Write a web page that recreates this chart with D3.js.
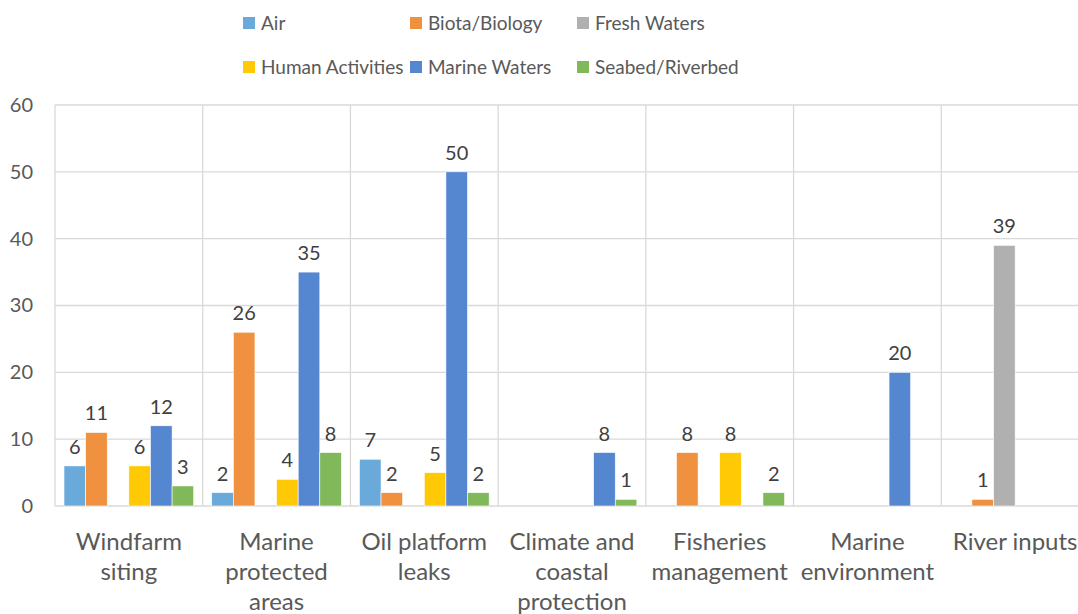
<!DOCTYPE html>
<html><head><meta charset="utf-8">
<script src="https://cdn.jsdelivr.net/npm/d3@7"></script>
<style>
html,body{margin:0;padding:0;background:#fff;}
svg{display:block;font-family:Lato, "Open Sans", sans-serif;}
</style></head>
<body><svg id="chart" width="1078" height="614"></svg>
<script>
const categories = ["Windfarm siting","Marine protected areas","Oil platform leaks","Climate and coastal protection","Fisheries management","Marine environment","River inputs"];
const categoryLines = [["Windfarm","siting"],["Marine","protected","areas"],["Oil platform","leaks"],["Climate and","coastal","protection"],["Fisheries","management"],["Marine","environment"],["River inputs"]];
const seriesNames = ["Air","Biota/Biology","Fresh Waters","Human Activities","Marine Waters","Seabed/Riverbed"];
const seriesColors = ["#6aaadb","#f0913f","#b0b0b0","#ffc905","#5586d0","#80b85a"];
const air     = [6, 2, 7, null, null, null, null];
const biota   = [11, 26, 2, null, 8, null, 1];
const fresh   = [null, null, null, null, null, null, 39];
const human   = [6, 4, 5, null, 8, null, null];
const marine  = [12, 35, 50, 8, null, 20, null];
const seabed  = [3, 8, 2, 1, 2, null, null];
const yTicks = [0,10,20,30,40,50,60];

const seriesValues = [air, biota, fresh, human, marine, seabed];
const svg = d3.select("#chart");
const pLeft = 55, pRight = 1089, pTop = 105, pBottom = 506;

const x0 = d3.scaleBand().domain(categories).range([pLeft, pRight]).padding(0);
const x1 = d3.scaleBand().domain(seriesNames).range([9, x0.bandwidth()-9]).padding(0);
const y = d3.scaleLinear().domain([0,60]).range([pBottom, pTop]);

// gridlines
svg.append("g").selectAll("line").data(yTicks.filter(t=>t>0)).join("line")
  .attr("x1", pLeft).attr("x2", pRight)
  .attr("y1", d=>y(d)).attr("y2", d=>y(d))
  .attr("stroke","#d9d9d9").attr("stroke-width",1.3);
// category separators
svg.append("g").selectAll("line").data(categories).join("line")
  .attr("x1", d=>x0(d)).attr("x2", d=>x0(d))
  .attr("y1", pTop).attr("y2", pBottom)
  .attr("stroke","#d9d9d9").attr("stroke-width",1.3);
// baseline
svg.append("line").attr("x1",pLeft).attr("x2",pRight).attr("y1",y(0)).attr("y2",y(0))
  .attr("stroke","#d9d9d9").attr("stroke-width",1.5);

// y axis
const yAxis = d3.axisLeft(y).tickValues(yTicks).tickSize(0).tickPadding(0);
const ya = svg.append("g").attr("transform","translate(33,0)").call(yAxis);
ya.select(".domain").remove();
ya.selectAll("text").attr("font-size",20).attr("fill","#595959").attr("font-family","Lato, 'Open Sans', sans-serif");

// bars
const barData = [];
seriesValues.forEach((vals, si) => vals.forEach((v, ci) => {
  if (v != null) barData.push({cat: categories[ci], s: seriesNames[si], si, v});
}));
svg.append("g").selectAll("rect").data(barData).join("rect")
  .attr("x", d=>x0(d.cat)+x1(d.s))
  .attr("y", d=>y(d.v))
  .attr("width", x1.bandwidth())
  .attr("height", d=>y(0)-y(d.v))
  .attr("fill", d=>seriesColors[d.si])
  .attr("stroke","#ffffff").attr("stroke-width",0.6);

svg.append("g").selectAll("text").data(barData).join("text")
  .attr("x", d=>x0(d.cat)+x1(d.s)+x1.bandwidth()/2)
  .attr("y", d=>y(d.v)-12)
  .attr("text-anchor","middle")
  .attr("font-size",20).attr("fill","#404040")
  .text(d=>d.v);

// category labels
const cl = svg.append("g").selectAll("text").data(categories).join("text")
  .attr("x", d=>x0(d)+x0.bandwidth()/2)
  .attr("text-anchor","middle")
  .attr("font-size",24).attr("fill","#595959");
cl.each(function(d,i){
  const t = d3.select(this);
  categoryLines[i].forEach((line,j)=>{
    t.append("tspan").attr("x", x0(d)+x0.bandwidth()/2).attr("y", 550 + j*30).text(line);
  });
});

// legend
const legX = [243, 410, 577];
const legY = [23, 67];
const lg = svg.append("g").selectAll("g").data(seriesNames).join("g")
  .attr("transform",(d,i)=>`translate(${legX[i%3]},${legY[Math.floor(i/3)]})`);
lg.append("rect").attr("x",0).attr("y",-6).attr("width",12).attr("height",12)
  .attr("fill",(d,i)=>seriesColors[i]);
lg.append("text").attr("x",18).attr("y",0).attr("dy","0.35em")
  .attr("font-size",19).attr("fill","#595959").text(d=>d);
</script></body></html>
